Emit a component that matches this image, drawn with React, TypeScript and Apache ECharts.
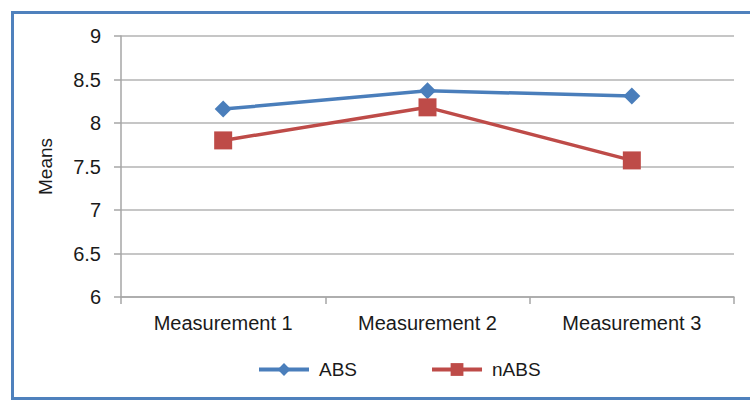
import React, { useEffect, useRef } from "react";
import * as echarts from "echarts";

const categories = ["Measurement 1", "Measurement 2", "Measurement 3"];
const absValues = [8.16, 8.37, 8.31];
const nabsValues = [7.8, 8.18, 7.57];
const seriesNames = ["ABS", "nABS"];
const yAxisName = "Means";

export default function App() {
  const ref = useRef<HTMLDivElement>(null);
  useEffect(() => {
    if (!ref.current) return;
    const chart = echarts.init(ref.current, undefined, { renderer: "svg" });
    const font = "Liberation Sans";
    chart.setOption({
      animation: false,
      backgroundColor: "#ffffff",
      textStyle: { fontFamily: font },
      graphic: [
        {
          type: "rect",
          shape: { x: 12.5, y: 12.5, width: 800, height: 386 },
          style: { fill: "none", stroke: "#4f81bd", lineWidth: 3 },
          z: 100,
        },
      ],
      grid: { left: 121, right: 16, top: 36, bottom: 104 },
      legend: {
        left: 252,
        top: 355,
        itemWidth: 50,
        itemHeight: 16,
        itemGap: 73,
        data: seriesNames,
        lineStyle: { width: 4 },
        textStyle: { fontSize: 19, color: "#1a1a1a", fontFamily: font, padding: [0, 0, 0, 5] },
      },
      xAxis: {
        type: "category",
        data: categories,
        boundaryGap: true,
        axisLine: { lineStyle: { color: "#a6a6a6", width: 1.5 } },
        axisTick: { show: true, length: 7, lineStyle: { color: "#a6a6a6", width: 1.5 } },
        axisLabel: { fontSize: 20, color: "#1a1a1a", margin: 16, fontFamily: font },
        splitLine: { show: false },
      },
      yAxis: {
        type: "value",
        min: 6,
        max: 9,
        interval: 0.5,
        name: yAxisName,
        nameLocation: "middle",
        nameGap: 66,
        nameTextStyle: { fontSize: 19, color: "#1a1a1a", fontFamily: font },
        axisLine: { show: true, lineStyle: { color: "#a6a6a6", width: 1.5 } },
        axisTick: { show: true, length: 7, lineStyle: { color: "#a6a6a6", width: 1.5 } },
        axisLabel: { fontSize: 20, color: "#1a1a1a", margin: 20, fontFamily: font },
        splitLine: { show: true, lineStyle: { color: "#b3b3b3", width: 1.5 } },
      },
      series: [
        {
          name: seriesNames[0],
          type: "line",
          data: absValues,
          symbol: "diamond",
          symbolSize: [17, 17],
          itemStyle: { color: "#4a7ebb" },
          lineStyle: { color: "#4a7ebb", width: 3.5 },
        },
        {
          name: seriesNames[1],
          type: "line",
          data: nabsValues,
          symbol: "rect",
          symbolSize: 18,
          itemStyle: { color: "#be4b48" },
          lineStyle: { color: "#be4b48", width: 3.5 },
        },
      ],
    });
    return () => chart.dispose();
  }, []);
  return (
    <div
      ref={ref}
      style={{ position: "fixed", left: 0, top: 0, width: 750, height: 401 }}
    />
  );
}
